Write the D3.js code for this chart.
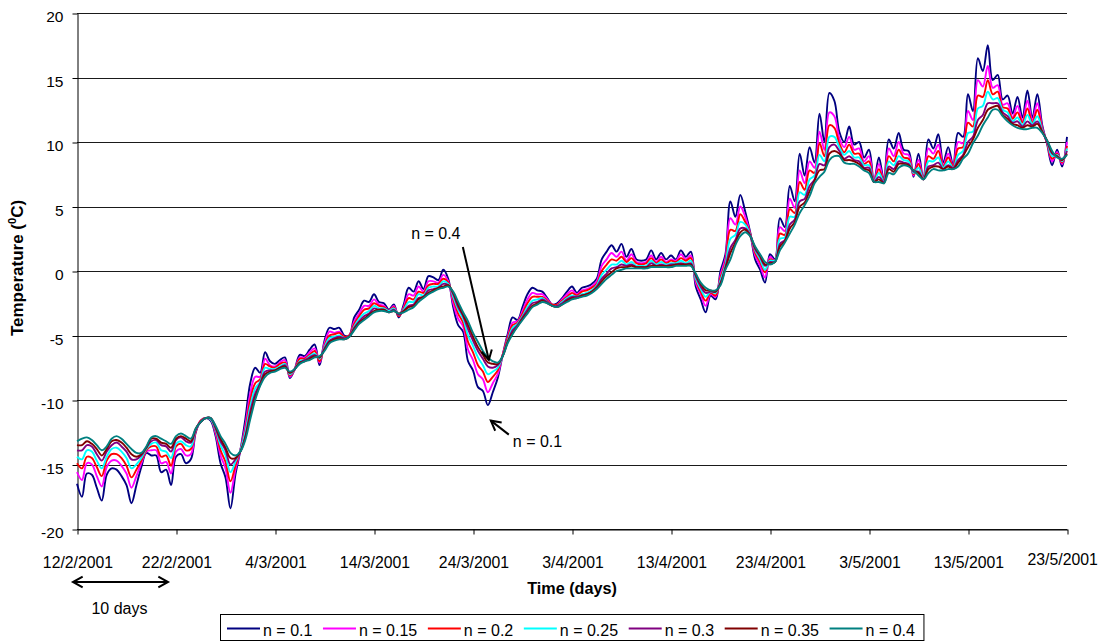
<!DOCTYPE html>
<html>
<head>
<meta charset="utf-8">
<script src="https://cdn.jsdelivr.net/npm/d3@7"></script>
<style>
  body { margin: 0; background: #ffffff; }
  svg { display: block; font-family: "Liberation Sans", Arial, Helvetica, sans-serif; }
</style>
</head>
<body>
<svg id="chart" width="1100" height="641"></svg>
<script>
// ---- data: simulated temperature for different n values, sampled every half day ----
const startDate = Date.UTC(2001, 1, 12);   // 12/2/2001
const stepDays = 0.5;
const xTickDays = [0, 10, 20, 30, 40, 50, 60, 70, 80, 90, 100];
const yTicks = [-20, -15, -10, -5, 0, 5, 10, 15, 20];
const seriesLabels = ["n = 0.1", "n = 0.15", "n = 0.2", "n = 0.25", "n = 0.3", "n = 0.35", "n = 0.4"];

const n010 = [
-16.5,-17.5,-15.7,-15.8,-16.8,-17.8,-15.8,-15.3,-15.4,-15.9,
-16.6,-18.0,-16.6,-15.2,-14.1,-14.3,-14.3,-15.6,-15.4,-16.6,
-14.4,-14.2,-14.9,-14.6,-12.5,-11.6,-11.4,-11.6,-12.8,-14.9,
-16.0,-18.4,-15.8,-13.9,-11.5,-8.7,-7.5,-7.9,-6.3,-7.0,
-7.2,-6.9,-6.7,-8.3,-7.6,-6.5,-6.6,-6.1,-5.7,-7.3,
-5.4,-4.4,-4.5,-4.4,-5.0,-5.0,-3.6,-3.0,-2.3,-2.4,
-1.8,-2.4,-2.5,-3.0,-2.6,-3.6,-2.6,-1.3,-1.6,-0.8,
-1.4,-0.4,-0.5,-0.7,0.1,-0.6,-2.8,-4.2,-4.7,-7.0,
-7.7,-9.0,-9.3,-10.4,-9.4,-8.3,-6.5,-4.9,-3.6,-3.8,
-2.8,-1.8,-1.3,-1.5,-1.6,-2.1,-2.6,-2.5,-2.1,-1.6,
-1.2,-1.7,-1.3,-1.2,-1.0,-0.6,0.9,1.5,2.0,1.5,
2.1,1.1,1.7,0.9,0.8,0.9,1.6,0.9,1.4,0.9,
1.2,0.9,1.6,1.1,1.5,-1.2,-2.2,-3.2,-1.9,-2.2,
0.0,1.3,5.4,4.2,5.9,4.6,3.0,0.9,0.1,-0.9,
1.3,0.9,4.1,3.4,6.6,5.4,9.1,7.4,9.6,8.4,
12.2,10.0,13.8,13.2,10.8,10.0,11.2,9.8,10.0,8.8,
9.4,6.9,8.8,7.1,10.2,9.5,10.7,9.4,9.3,7.3,
9.1,7.1,10.2,9.5,10.6,8.4,9.6,8.2,10.7,10.4,
13.7,12.4,16.5,15.5,17.5,14.8,15.2,13.3,13.6,12.2,
13.5,11.9,14.0,11.9,13.7,11.3,9.8,8.2,9.4,8.1,
10.4];

const n015 = [
-15.6,-16.2,-14.9,-15.0,-15.9,-16.7,-15.2,-14.7,-14.7,-15.1,
-15.7,-16.8,-15.9,-14.9,-14.0,-13.9,-13.9,-14.9,-14.8,-15.7,
-14.0,-13.8,-14.3,-14.2,-12.4,-11.6,-11.4,-11.5,-12.6,-14.3,
-15.3,-17.2,-15.4,-13.9,-12.0,-9.5,-8.2,-8.2,-6.8,-7.3,
-7.4,-7.1,-6.9,-8.2,-7.6,-6.7,-6.7,-6.3,-6.0,-7.1,
-5.6,-4.7,-4.8,-4.7,-5.1,-5.0,-3.9,-3.3,-2.7,-2.7,
-2.2,-2.6,-2.7,-3.1,-2.7,-3.5,-2.8,-1.8,-1.9,-1.2,
-1.6,-0.8,-0.8,-0.9,-0.3,-0.8,-2.5,-3.7,-4.3,-6.1,
-6.9,-8.0,-8.4,-9.4,-8.7,-8.0,-6.5,-5.1,-4.0,-3.9,
-3.1,-2.2,-1.7,-1.8,-1.8,-2.2,-2.6,-2.6,-2.2,-1.8,
-1.5,-1.8,-1.5,-1.4,-1.2,-0.8,0.4,0.9,1.4,1.1,
1.5,0.8,1.3,0.7,0.6,0.7,1.2,0.7,1.1,0.7,
0.9,0.8,1.3,0.9,1.2,-0.9,-1.8,-2.7,-1.8,-2.0,
-0.3,1.0,4.1,3.6,5.0,4.2,2.9,1.2,0.4,-0.5,
1.1,0.8,3.4,3.1,5.6,4.9,7.8,6.8,8.5,8.0,
10.8,9.4,12.3,12.0,10.3,9.6,10.4,9.4,9.5,8.5,
8.9,6.9,8.3,7.0,9.5,8.9,10.0,9.1,9.0,7.4,
8.6,7.1,9.5,9.1,9.8,8.2,9.1,8.1,10.0,9.9,
12.4,11.7,14.8,14.3,15.9,14.2,14.4,12.9,13.0,11.9,
12.8,11.6,13.2,11.7,13.0,11.1,9.9,8.5,9.2,8.3,
10.0];

const n020 = [
-14.9,-15.3,-14.4,-14.5,-15.2,-15.9,-14.7,-14.2,-14.2,-14.5,
-15.1,-16.0,-15.4,-14.7,-13.9,-13.6,-13.6,-14.4,-14.3,-15.1,
-13.6,-13.4,-13.9,-13.8,-12.4,-11.6,-11.4,-11.5,-12.4,-13.9,
-14.8,-16.3,-15.1,-13.9,-12.3,-10.0,-8.7,-8.4,-7.2,-7.4,
-7.5,-7.2,-7.1,-8.1,-7.6,-6.8,-6.8,-6.5,-6.2,-7.0,
-5.8,-5.0,-4.9,-4.8,-5.1,-5.0,-4.1,-3.5,-3.0,-2.9,
-2.5,-2.7,-2.8,-3.1,-2.8,-3.5,-2.9,-2.1,-2.2,-1.6,
-1.7,-1.1,-1.0,-1.0,-0.6,-0.9,-2.2,-3.3,-4.0,-5.5,
-6.3,-7.3,-7.8,-8.6,-8.2,-7.7,-6.5,-5.2,-4.2,-4.0,
-3.3,-2.5,-2.0,-2.0,-2.0,-2.3,-2.6,-2.6,-2.3,-2.0,
-1.7,-1.9,-1.6,-1.5,-1.3,-1.0,0.0,0.5,0.9,0.8,
1.1,0.7,1.0,0.6,0.5,0.6,1.0,0.6,0.9,0.6,
0.8,0.7,1.0,0.8,1.0,-0.7,-1.6,-2.3,-1.7,-1.9,
-0.5,0.7,3.2,3.1,4.4,3.8,2.9,1.4,0.7,-0.1,
0.9,0.8,2.9,2.8,4.8,4.5,6.9,6.3,7.8,7.6,
9.9,8.9,11.3,11.1,9.9,9.2,9.8,9.1,9.1,8.3,
8.5,6.9,7.9,7.0,8.9,8.5,9.4,8.8,8.7,7.5,
8.3,7.1,8.9,8.7,9.3,8.1,8.8,8.1,9.5,9.6,
11.5,11.2,13.6,13.5,14.8,13.7,13.9,12.7,12.6,11.8,
12.3,11.5,12.6,11.5,12.5,11.0,9.9,8.7,9.1,8.4,
9.7];

const n025 = [
-14.4,-14.6,-13.9,-14.0,-14.7,-15.3,-14.4,-13.8,-13.7,-14.0,
-14.5,-15.3,-15.0,-14.5,-13.8,-13.4,-13.3,-13.9,-14.0,-14.5,
-13.4,-13.2,-13.5,-13.6,-12.3,-11.7,-11.4,-11.5,-12.3,-13.5,
-14.3,-15.6,-14.8,-13.9,-12.5,-10.5,-9.1,-8.6,-7.5,-7.6,
-7.6,-7.4,-7.2,-8.0,-7.6,-7.0,-6.9,-6.6,-6.4,-6.8,
-5.9,-5.2,-5.1,-5.0,-5.2,-5.1,-4.3,-3.7,-3.3,-3.1,
-2.7,-2.9,-2.9,-3.1,-2.9,-3.4,-3.0,-2.4,-2.4,-1.8,
-1.9,-1.3,-1.2,-1.2,-0.8,-1.0,-2.0,-3.0,-3.7,-5.0,
-5.8,-6.7,-7.3,-8.0,-7.8,-7.5,-6.6,-5.4,-4.4,-4.1,
-3.5,-2.8,-2.3,-2.2,-2.1,-2.4,-2.7,-2.7,-2.4,-2.1,
-1.9,-2.0,-1.8,-1.7,-1.5,-1.1,-0.3,0.1,0.5,0.5,
0.8,0.5,0.7,0.4,0.4,0.4,0.8,0.5,0.7,0.5,
0.6,0.6,0.8,0.6,0.8,-0.6,-1.4,-2.0,-1.6,-1.7,
-0.7,0.5,2.5,2.8,3.8,3.6,2.8,1.6,0.9,0.1,
0.8,0.8,2.5,2.6,4.2,4.2,6.1,5.9,7.1,7.4,
9.0,8.5,10.4,10.4,9.6,9.0,9.3,8.8,8.8,8.2,
8.2,6.9,7.6,6.9,8.5,8.2,8.9,8.6,8.5,7.6,
8.0,7.1,8.5,8.5,8.8,8.0,8.5,8.0,9.0,9.3,
10.7,10.8,12.6,12.8,13.9,13.3,13.4,12.5,12.3,11.6,
11.9,11.3,12.1,11.4,12.0,10.9,10.0,8.9,9.0,8.5,
9.5];

const n030 = [
-13.9,-13.9,-13.5,-13.6,-14.2,-14.7,-14.0,-13.5,-13.3,-13.6,
-14.0,-14.6,-14.6,-14.3,-13.7,-13.2,-13.1,-13.5,-13.6,-14.0,
-13.1,-12.9,-13.2,-13.3,-12.3,-11.7,-11.4,-11.4,-12.2,-13.2,
-13.9,-15.0,-14.6,-14.0,-12.8,-10.9,-9.5,-8.7,-7.8,-7.7,
-7.7,-7.5,-7.3,-7.9,-7.6,-7.1,-6.9,-6.7,-6.5,-6.7,
-6.0,-5.4,-5.2,-5.1,-5.2,-5.1,-4.4,-3.9,-3.5,-3.3,
-2.9,-3.0,-3.0,-3.2,-3.0,-3.4,-3.1,-2.7,-2.6,-2.1,
-2.0,-1.5,-1.4,-1.3,-1.0,-1.1,-1.8,-2.8,-3.5,-4.5,
-5.4,-6.2,-6.8,-7.4,-7.5,-7.3,-6.6,-5.5,-4.6,-4.2,
-3.6,-3.0,-2.5,-2.4,-2.2,-2.4,-2.7,-2.7,-2.5,-2.2,
-2.0,-2.0,-1.9,-1.8,-1.6,-1.2,-0.6,-0.2,0.2,0.3,
0.5,0.4,0.5,0.3,0.3,0.3,0.6,0.4,0.5,0.4,
0.5,0.5,0.6,0.5,0.6,-0.4,-1.2,-1.7,-1.6,-1.6,
-0.9,0.3,1.8,2.4,3.3,3.3,2.8,1.7,1.1,0.4,
0.7,0.7,2.1,2.4,3.6,4.0,5.4,5.6,6.6,7.1,
8.3,8.2,9.6,9.8,9.3,8.7,8.9,8.6,8.5,8.0,
8.0,6.9,7.3,6.9,8.1,7.9,8.5,8.4,8.3,7.7,
7.7,7.1,8.1,8.2,8.4,7.9,8.2,8.0,8.6,9.0,
10.0,10.4,11.7,12.1,13.0,13.0,13.0,12.3,12.0,11.5,
11.6,11.2,11.6,11.3,11.6,10.8,10.0,9.1,8.9,8.6,
9.3];

const n035 = [
-13.5,-13.5,-13.2,-13.4,-13.8,-14.3,-13.8,-13.2,-13.1,-13.3,
-13.7,-14.2,-14.4,-14.2,-13.7,-13.0,-13.0,-13.3,-13.4,-13.7,
-13.0,-12.8,-13.0,-13.2,-12.2,-11.7,-11.4,-11.4,-12.1,-13.0,
-13.7,-14.5,-14.5,-14.0,-12.9,-11.2,-9.8,-8.8,-8.0,-7.8,
-7.7,-7.5,-7.4,-7.9,-7.6,-7.1,-7.0,-6.8,-6.6,-6.7,
-6.1,-5.5,-5.3,-5.2,-5.3,-5.1,-4.5,-4.0,-3.7,-3.4,
-3.1,-3.0,-3.0,-3.2,-3.1,-3.3,-3.1,-2.8,-2.7,-2.2,
-2.0,-1.7,-1.5,-1.3,-1.2,-1.1,-1.7,-2.6,-3.4,-4.2,
-5.1,-5.9,-6.5,-7.1,-7.2,-7.2,-6.6,-5.5,-4.8,-4.3,
-3.7,-3.2,-2.7,-2.5,-2.3,-2.5,-2.7,-2.8,-2.6,-2.3,
-2.1,-2.1,-1.9,-1.8,-1.6,-1.3,-0.8,-0.4,-0.1,0.2,
0.3,0.3,0.4,0.3,0.3,0.3,0.4,0.4,0.4,0.4,
0.4,0.5,0.5,0.5,0.5,-0.3,-1.0,-1.5,-1.5,-1.6,
-1.0,0.2,1.4,2.2,3.0,3.2,2.7,1.8,1.2,0.5,
0.6,0.7,1.9,2.3,3.3,3.8,5.0,5.3,6.2,7.0,
7.8,7.9,9.1,9.3,9.1,8.6,8.6,8.5,8.3,7.9,
7.8,6.9,7.1,6.8,7.9,7.7,8.3,8.3,8.2,7.8,
7.6,7.1,7.9,8.1,8.1,7.9,8.1,7.9,8.4,8.9,
9.6,10.2,11.1,11.7,12.5,12.7,12.8,12.1,11.8,11.4,
11.3,11.1,11.3,11.2,11.4,10.8,10.1,9.2,8.9,8.6,
9.1];

const n040 = [
-13.2,-13.0,-12.9,-13.1,-13.5,-13.9,-13.6,-13.0,-12.8,-13.0,
-13.4,-13.8,-14.1,-14.1,-13.6,-12.9,-12.8,-13.0,-13.2,-13.4,
-12.8,-12.6,-12.8,-13.0,-12.2,-11.7,-11.4,-11.4,-12.0,-12.8,
-13.4,-14.1,-14.3,-14.0,-13.1,-11.5,-10.0,-8.9,-8.2,-7.9,
-7.8,-7.6,-7.5,-7.8,-7.6,-7.2,-7.0,-6.9,-6.7,-6.6,
-6.2,-5.6,-5.4,-5.3,-5.3,-5.1,-4.6,-4.1,-3.8,-3.5,
-3.2,-3.1,-3.1,-3.2,-3.1,-3.3,-3.2,-3.0,-2.8,-2.4,
-2.1,-1.8,-1.6,-1.4,-1.3,-1.2,-1.6,-2.4,-3.2,-3.9,
-4.8,-5.5,-6.2,-6.7,-7.0,-7.1,-6.6,-5.6,-4.9,-4.3,
-3.8,-3.3,-2.8,-2.6,-2.4,-2.5,-2.7,-2.8,-2.6,-2.4,
-2.2,-2.1,-2.0,-1.9,-1.7,-1.4,-1.0,-0.6,-0.3,0.0,
0.1,0.2,0.2,0.2,0.2,0.2,0.3,0.3,0.3,0.3,
0.3,0.4,0.4,0.4,0.4,-0.2,-0.9,-1.3,-1.5,-1.5,
-1.1,0.1,0.9,2.0,2.7,3.0,2.7,1.9,1.3,0.7,
0.5,0.7,1.6,2.2,2.9,3.6,4.5,5.1,5.8,6.8,
7.3,7.7,8.6,8.9,8.9,8.4,8.3,8.3,8.1,7.8,
7.6,6.9,6.9,6.8,7.6,7.5,8.0,8.2,8.1,7.8,
7.4,7.1,7.6,7.9,7.8,7.8,7.9,7.9,8.1,8.7,
9.1,9.9,10.5,11.3,11.9,12.5,12.5,12.0,11.6,11.3,
11.1,11.0,11.0,11.1,11.1,10.7,10.1,9.3,8.8,8.7,
9.0];

// ---- drawing ----
const seriesValues = [n010, n015, n020, n025, n030, n035, n040];
const lineColors = ["#000080", "#FF00FF", "#FF0000", "#00FFFF", "#800080", "#800000", "#008080"];

const DAY = 86400000;
const dateAt = d => new Date(startDate + d * DAY);

const svg = d3.select("#chart");
const plotLeft = 77, plotRight = 1067, plotTop = 13, plotBottom = 529;
const FONT = "Liberation Sans, Arial, sans-serif";

const x = d3.scaleUtc()
  .domain([dateAt(0), dateAt(100)])
  .range([plotLeft, plotRight]);
const y = d3.scaleLinear()
  .domain([-20, 20])
  .range([plotBottom, plotTop]);

// horizontal gridlines
svg.append("g")
  .selectAll("line")
  .data(yTicks)
  .join("line")
  .attr("x1", plotLeft).attr("x2", plotRight)
  .attr("y1", d => Math.round(y(d)) + 0.5)
  .attr("y2", d => Math.round(y(d)) + 0.5)
  .attr("stroke", "#1a1a1a")
  .attr("stroke-width", 1);

// y axis
const yAxis = svg.append("g")
  .attr("transform", `translate(${plotLeft + 0.5},0.5)`)
  .call(d3.axisLeft(y).tickValues(yTicks).tickSize(5).tickSizeOuter(0).tickPadding(9));
yAxis.select(".domain").attr("stroke", "#000");
yAxis.selectAll(".tick line").attr("stroke", "#000");
yAxis.selectAll(".tick text")
  .attr("font-size", 15.5)
  .attr("font-family", FONT)
  .attr("fill", "#000")
  .attr("dy", "0.52em")
  .text(d => d < 0 ? "-" + Math.abs(d) : String(d));

// x axis
const fmt = d3.utcFormat("%-d/%-m/%Y");
const xAxis = svg.append("g")
  .attr("transform", `translate(0.5,${plotBottom + 0.5})`)
  .call(d3.axisBottom(x).tickValues(xTickDays.map(dateAt)).tickSize(5).tickSizeOuter(0)
    .tickPadding(22).tickFormat(fmt));
xAxis.select(".domain").attr("stroke", "#000");
xAxis.selectAll(".tick line").attr("stroke", "#000");
xAxis.selectAll(".tick text")
  .attr("font-size", 15.8)
  .attr("font-family", FONT)
  .attr("fill", "#000")
  .each(function () {
    // keep labels inside the canvas: pull the last one back from the right edge
    const bb = this.getBBox();
    const tickX = x(d3.select(this.parentNode).datum());
    const overflow = tickX + bb.x + bb.width - 1097;
    if (overflow > 0) d3.select(this).attr("x", -overflow).attr("y", 24);
  });

// series lines
const line = d3.line()
  .x((v, i) => x(dateAt(i * stepDays)))
  .y(v => y(v))
  .curve(d3.curveCatmullRom.alpha(0.5));

svg.append("g")
  .selectAll("path")
  .data(seriesValues)
  .join("path")
  .attr("d", d => line(d))
  .attr("fill", "none")
  .attr("stroke", (d, i) => lineColors[i])
  .attr("stroke-width", 1.9)
  .attr("stroke-linejoin", "round");

// axis titles
const yTitle = svg.append("text")
  .attr("transform", `translate(23,268) rotate(-90)`)
  .attr("text-anchor", "middle")
  .attr("font-size", 17)
  .attr("font-weight", "bold")
  .attr("fill", "#000");
yTitle.append("tspan").text("Temperature (");
yTitle.append("tspan").attr("font-size", 11).attr("dy", -7).text("0");
yTitle.append("tspan").attr("dy", 7).text("C)");

svg.append("text")
  .attr("x", 572).attr("y", 594)
  .attr("text-anchor", "middle")
  .attr("font-size", 16.2)
  .attr("font-weight", "bold")
  .attr("fill", "#000")
  .text("Time (days)");

// arrow helper: open V head at the tip
function arrow(x1, y1, x2, y2, heads) {
  const g = svg.append("g").attr("stroke", "#000").attr("stroke-width", 2).attr("fill", "none");
  g.append("line").attr("x1", x1).attr("y1", y1).attr("x2", x2).attr("y2", y2);
  const head = (tx, ty, fx, fy) => {
    const a = Math.atan2(ty - fy, tx - fx), L = 11, s = 0.5;
    g.append("path").attr("d",
      `M${tx - L * Math.cos(a - s)},${ty - L * Math.sin(a - s)}L${tx},${ty}L${tx - L * Math.cos(a + s)},${ty - L * Math.sin(a + s)}`);
  };
  head(x2, y2, x1, y1);
  if (heads === 2) head(x1, y1, x2, y2);
}

// annotations for the two extreme curves at the March cold spell
const tip04 = [x(dateAt(41.6)), y(-6.9)];
arrow(tip04[0] - 26, tip04[1] - 113, tip04[0], tip04[1], 1);
svg.append("text")
  .attr("x", tip04[0] - 53).attr("y", tip04[1] - 121)
  .attr("text-anchor", "middle").attr("font-size", 16).attr("fill", "#000")
  .text(seriesLabels[6]);

const tip01 = [x(dateAt(41.8)), y(-11.6)];
arrow(tip01[0] + 18, tip01[1] + 14, tip01[0], tip01[1], 1);
svg.append("text")
  .attr("x", tip01[0] + 22).attr("y", tip01[1] + 26)
  .attr("font-size", 16).attr("fill", "#000")
  .text(seriesLabels[0]);

// ten-day scale bar under the time axis
arrow(x(dateAt(0)) - 4, 582, x(dateAt(10)) - 8, 582, 2);
svg.append("text")
  .attr("x", (x(dateAt(0)) + x(dateAt(10))) / 2 - 7).attr("y", 614)
  .attr("text-anchor", "middle").attr("font-size", 16).attr("fill", "#000")
  .text("10 days");

// legend
const legend = svg.append("g");
const legBox = legend.append("rect")
  .attr("fill", "#fff").attr("stroke", "#000").attr("stroke-width", 1);
let lx = 227, textEnd = 0;
seriesLabels.forEach((lab, i) => {
  legend.append("line")
    .attr("x1", lx).attr("x2", lx + 33)
    .attr("y1", 628.5).attr("y2", 628.5)
    .attr("stroke", lineColors[i]).attr("stroke-width", 1.9);
  const t = legend.append("text")
    .attr("x", lx + 36).attr("y", 635.5)
    .attr("font-size", 16).attr("fill", "#000")
    .text(lab);
  textEnd = lx + 36 + t.node().getComputedTextLength();
  lx = textEnd + 10.6;
});
legBox.attr("x", 220.5).attr("y", 614.5).attr("width", textEnd + 9 - 220.5).attr("height", 26);
</script>
</body>
</html>
